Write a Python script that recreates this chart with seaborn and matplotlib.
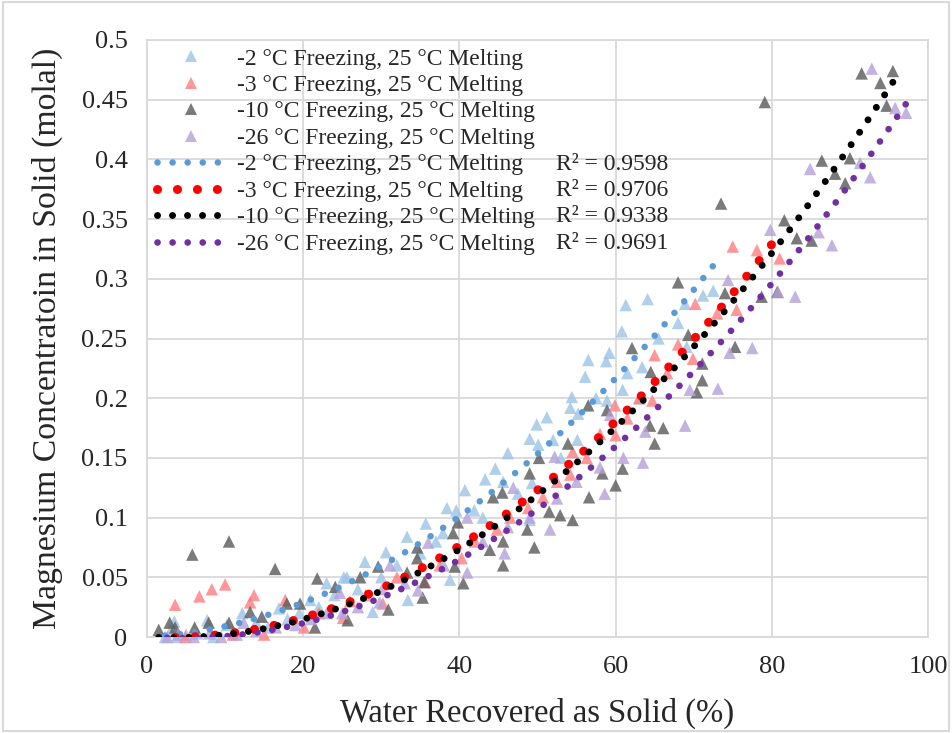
import numpy as np
import pandas as pd
import matplotlib
matplotlib.use("Agg")
import matplotlib.pyplot as plt
from matplotlib.lines import Line2D
from matplotlib.patches import Rectangle
import seaborn as sns

# ---- data (x = water recovered %, y = Mg molal) ----
labels = ["-2 °C Freezing, 25 °C Melting", "-3 °C Freezing, 25 °C Melting",
          "-10 °C Freezing, 25 °C Melting", "-26 °C Freezing, 25 °C Melting"]
r2_text = ["R² = 0.9598", "R² = 0.9706", "R² = 0.9338", "R² = 0.9691"]

x_m2 = [2.3, 3.0, 3.5, 3.8, 5.0, 6.5, 7.7, 8.5, 10.2, 11.0, 12.2, 14.0, 15.5, 16.9, 18.0, 19.5,
        20.9, 22.0, 23.0, 24.0, 25.2, 25.6, 27.0, 27.9, 28.9, 30.0, 30.6, 32.0, 33.3, 33.4, 35.0,
        35.7, 37.0, 37.9, 38.4, 38.8, 39.6, 40.7, 41.9, 43.0, 43.3, 44.6, 45.6, 46.2, 47.5, 49.0,
        49.0, 49.3, 49.9, 50.1, 51.2, 52.0, 53.0, 54.2, 54.4, 55.1, 55.2, 56.1, 56.5, 57.5, 58.8,
        58.9, 59.2, 60.8, 60.9, 61.3, 61.5, 63.1, 63.4, 64.1, 65.5, 68.0, 68.9, 69.1, 71.2, 72.5]
y_m2 = [0.0, 0.005, 0.013, 0.0, 0.002, 0.003, 0.014, 0.0, 0.010, 0.004, 0.020, 0.012, 0.008, 0.024,
        0.015, 0.020, 0.031, 0.025, 0.045, 0.035, 0.050, 0.050, 0.040, 0.063, 0.021, 0.050, 0.071,
        0.060, 0.084, 0.031, 0.070, 0.095, 0.080, 0.087, 0.108, 0.048, 0.106, 0.123, 0.106, 0.100,
        0.132, 0.141, 0.130, 0.154, 0.120, 0.166, 0.098, 0.129, 0.178, 0.161, 0.184, 0.165, 0.150,
        0.192, 0.201, 0.165, 0.187, 0.218, 0.232, 0.200, 0.231, 0.198, 0.238, 0.256, 0.207, 0.278,
        0.221, 0.200, 0.226, 0.283, 0.250, 0.263, 0.279, 0.243, 0.286, 0.290]

x_m3 = [3.6, 4.9, 6.7, 8.3, 10.0, 11.0, 13.2, 13.7, 15.0, 17.7, 20.1, 22.0, 25.1, 26.0, 28.0, 30.2,
        32.0, 35.6, 37.5, 40.3, 42.0, 44.8, 46.5, 48.8, 50.7, 52.5, 54.2, 54.5, 56.3, 58.0, 59.9,
        60.0, 61.5, 63.0, 64.7, 65.0, 66.6, 68.0, 69.9, 70.2, 73.0, 75.0, 75.5, 78.1, 81.0]
y_m3 = [0.027, 0.0, 0.034, 0.040, 0.044, 0.002, 0.029, 0.035, 0.002, 0.031, 0.008, 0.020, 0.016,
        0.030, 0.035, 0.028, 0.050, 0.046, 0.060, 0.066, 0.080, 0.090, 0.100, 0.108, 0.117, 0.130,
        0.136, 0.155, 0.150, 0.170, 0.194, 0.169, 0.183, 0.200, 0.198, 0.236, 0.221, 0.245, 0.233,
        0.279, 0.271, 0.327, 0.274, 0.324, 0.317]

x_m10 = [1.5, 2.9, 3.6, 5.8, 6.1, 7.9, 10.5, 10.5, 13.2, 14.7, 16.4, 17.9, 19.6, 21.5, 21.8, 24.1,
         25.7, 27.3, 29.6, 30.9, 33.3, 34.6, 34.6, 35.3, 35.5, 39.2, 39.4, 39.8, 40.5, 43.9, 44.3,
         45.5, 45.6, 45.6, 48.7, 49.0, 49.6, 50.2, 51.5, 52.9, 53.9, 54.5, 56.5, 56.6, 58.3, 58.9,
         60.0, 60.9, 62.1, 64.4, 64.5, 65.0, 66.1, 68.0, 69.3, 70.4, 71.1, 71.1, 73.5, 74.0, 75.3,
         78.7, 79.1, 80.7, 81.6, 83.2, 85.1, 86.4, 88.1, 89.4, 90.0, 91.5, 93.9, 94.7, 95.5]
y_m10 = [0.006, 0.012, 0.008, 0.069, 0.008, 0.012, 0.080, 0.012, 0.021, 0.017, 0.057, 0.028, 0.028,
         0.008, 0.049, 0.042, 0.014, 0.050, 0.059, 0.023, 0.054, 0.075, 0.066, 0.033, 0.046, 0.087,
         0.059, 0.096, 0.045, 0.073, 0.117, 0.121, 0.060, 0.080, 0.090, 0.137, 0.075, 0.150, 0.105,
         0.102, 0.162, 0.098, 0.194, 0.117, 0.137, 0.190, 0.127, 0.141, 0.242, 0.177, 0.222, 0.162,
         0.175, 0.297, 0.253, 0.205, 0.229, 0.215, 0.363, 0.288, 0.243, 0.285, 0.448, 0.289, 0.349,
         0.334, 0.332, 0.399, 0.388, 0.380, 0.401, 0.472, 0.464, 0.445, 0.474]

x_m26 = [2.6, 4.0, 6.0, 8.0, 9.5, 11.5, 12.4, 14.0, 16.5, 19.0, 21.0, 23.0, 24.7, 25.0, 27.0, 29.8,
         30.1, 31.1, 33.0, 34.7, 36.0, 38.0, 41.0, 41.0, 43.0, 45.8, 46.2, 46.9, 49.0, 51.6, 52.2,
         52.5, 55.0, 58.0, 58.6, 59.3, 61.0, 63.5, 63.8, 68.9, 69.5, 73.1, 74.4, 74.6, 77.5, 79.8,
         80.8, 83.0, 84.9, 86.0, 87.7, 91.3, 92.6, 92.8, 95.8, 97.2]
y_m26 = [0.0, 0.002, 0.0, 0.003, 0.0, 0.002, 0.012, 0.005, 0.008, 0.010, 0.015, 0.020, 0.037, 0.020,
         0.025, 0.029, 0.040, 0.060, 0.045, 0.039, 0.079, 0.060, 0.100, 0.054, 0.080, 0.070, 0.092,
         0.125, 0.100, 0.090, 0.151, 0.116, 0.130, 0.142, 0.120, 0.186, 0.150, 0.146, 0.172, 0.177,
         0.207, 0.208, 0.299, 0.238, 0.242, 0.341, 0.289, 0.285, 0.392, 0.339, 0.328, 0.397, 0.385,
         0.476, 0.443, 0.439]

marker_colors = ["#9DC3E6", "#FF7C80", "#595959", "#B4A0DA"]
line_colors = ["#5B9BD5", "#FF0000", "#000000", "#7030A0"]

xs = [x_m2, x_m3, x_m10, x_m26]
ys = [y_m2, y_m3, y_m10, y_m26]
df = pd.concat([pd.DataFrame({"x": xv, "y": yv, "series": lab})
                for xv, yv, lab in zip(xs, ys, labels)], ignore_index=True)

sns.set_style("white")
plt.rcParams["font.family"] = ["Liberation Serif", "DejaVu Serif"]

fig = plt.figure(figsize=(9.52, 7.33), dpi=100)
ax = fig.add_axes([147 / 952, 1 - 637 / 733, (928 - 147) / 952, (637 - 40) / 733])

sns.scatterplot(data=df, x="x", y="y", hue="series", palette=marker_colors, marker="^",
                s=80, alpha=0.8, linewidth=0, legend=False, ax=ax, clip_on=False, zorder=3)

# 2nd order polynomial trendlines (intercept set to 0), dotted like Excel's "round dot"
dot_w = [4.7, 6.5, 5.0, 4.8]
dot_gap = [2.3, 2.2, 2.15, 2.25]
fits = []
for sub_lab in labels:
    sub = df[df.series == sub_lab]
    A = np.column_stack([sub.x ** 2, sub.x])
    coef = np.linalg.lstsq(A, sub.y, rcond=None)[0]
    xx = np.linspace(sub.x.min(), sub.x.max(), 120)
    fits.append(pd.DataFrame({"x": xx, "y": coef[0] * xx ** 2 + coef[1] * xx, "series": sub_lab}))
for fit, col, w, g in zip(fits, line_colors, dot_w, dot_gap):
    sns.lineplot(data=fit, x="x", y="y", color=col, lw=w, linestyle=(0, (0.01, g)),
                 dash_capstyle="round", ax=ax, zorder=4, legend=False)

ax.set_xlim(0, 100)
ax.set_ylim(0, 0.5)
ax.set_xticks(np.arange(0, 101, 20))
ax.set_yticks(np.arange(0, 0.501, 0.05))
ax.set_yticklabels(["0", "0.05", "0.1", "0.15", "0.2", "0.25", "0.3", "0.35", "0.4", "0.45", "0.5"])
ax.grid(True, color="#D9D9D9", lw=1.3)
ax.set_axisbelow(True)
for sp in ax.spines.values():
    sp.set_color("#D9D9D9")
    sp.set_linewidth(1.3)
ax.tick_params(length=0, labelsize=19, pad=14)
ax.set_xlabel("Water Recovered as Solid (%)", fontsize=23.5, labelpad=14)
ax.set_ylabel("Magnesium Concentratoin in Solid (molal)", fontsize=24.3, labelpad=13)

handles = [Line2D([], [], marker="^", ls="none", color=c, alpha=0.8, markersize=9, markeredgewidth=0)
           for c in marker_colors]
handles += [Line2D([], [], color=c, lw=w, ls=(0, (0.01, g)), dash_capstyle="round")
            for c, w, g in zip(line_colors, dot_w, dot_gap)]
ax.legend(handles, labels + labels, loc="upper left", bbox_to_anchor=(157 / 952, 1 - 48 / 733),
          bbox_transform=fig.transFigure, frameon=False, fontsize=17, handlelength=2.9,
          handletextpad=0.5, labelspacing=0.21, borderpad=0, borderaxespad=0)

for i, t in enumerate(r2_text):
    ax.text(556, 733 - (164 + 26.4 * i), t, transform=None, fontsize=17, va="center", ha="left")

fig.patches.append(Rectangle((0.003, 0.003), 0.994, 0.994, transform=fig.transFigure,
                             fill=False, edgecolor="#D9D9D9", lw=1.5))

fig.savefig("out.png", dpi=100)
